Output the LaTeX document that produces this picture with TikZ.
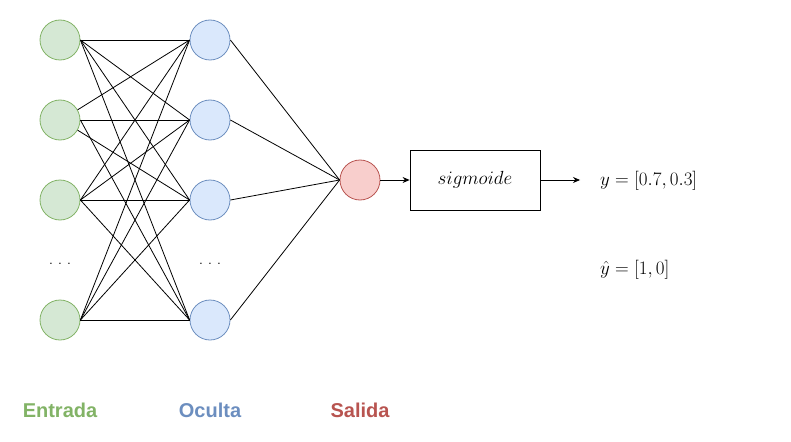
\RequirePackage{fix-cm}
\documentclass[tikz,border=0pt]{standalone}
\usepackage{fontspec}
\newfontfamily\labelfont{Liberation Sans}
\usetikzlibrary{arrows.meta}
\definecolor{ingreenf}{HTML}{D5E8D4}
\definecolor{ingreend}{HTML}{82B366}
\definecolor{hidbluef}{HTML}{DAE8FC}
\definecolor{hidblued}{HTML}{6C8EBF}
\definecolor{outredf}{HTML}{F8CECC}
\definecolor{outredd}{HTML}{B85450}
\begin{document}
\begin{tikzpicture}[x=1pt,y=-1pt,
  neuron/.style={circle,minimum size=40pt,inner sep=0pt,line width=0.8pt},
  innode/.style={neuron,fill=ingreenf,draw=ingreend},
  hidnode/.style={neuron,fill=hidbluef,draw=hidblued},
  outnode/.style={neuron,fill=outredf,draw=outredd},
  conn/.style={draw=black,line width=0.8pt},
  arr/.style={conn,-{Stealth[length=7pt,width=6pt]}},
  sigbox/.style={draw=black,line width=0.8pt,minimum width=130pt,minimum height=60pt,inner sep=0pt,font=\fontsize{19}{22}\selectfont},
  mathlabel/.style={anchor=west,inner sep=0pt,font=\fontsize{19}{22}\selectfont},
  dotslabel/.style={inner sep=0pt,font=\labelfont\fontsize{12}{14}\selectfont},
  layerlabel/.style={inner sep=0pt,font=\labelfont\bfseries\fontsize{20}{24}\selectfont}
]
\useasboundingbox (0,0) rectangle (791,441);
% nodes
\node[innode] (i1) at (60,40) {};
\node[innode] (i2) at (60,120) {};
\node[innode] (i3) at (60,200) {};
\node[innode] (i4) at (60,320) {};
\node[hidnode] (h1) at (210,40) {};
\node[hidnode] (h2) at (210,120) {};
\node[hidnode] (h3) at (210,200) {};
\node[hidnode] (h4) at (210,320) {};
\node[outnode] (o) at (360,180) {};
\node[sigbox] (s) at (475,180) {$sigmoide$};
\coordinate (yend) at (580,180);
\node[mathlabel] (y) at (600,181) {$y=[0.7,0.3]$};
\node[mathlabel] (yhat) at (600,270) {$\hat{y}=[1,0]$};
\node[dotslabel] (d1) at (60,264) {.\hspace{5.7pt}.\hspace{5.7pt}.};
\node[dotslabel] (d2) at (210,264) {.\hspace{5.7pt}.\hspace{5.7pt}.};
\node[layerlabel,text=ingreend] (l1) at (60,410) {Entrada};
\node[layerlabel,text=hidblued] (l2) at (210,410) {Oculta};
\node[layerlabel,text=outredd] (l3) at (360,410) {Salida};
% input to hidden
\foreach \h in {h1,h2,h3,h4}{
  \draw[conn] (i1.east) -- (\h.west);
  \draw[conn] (i3.east) -- (\h.west);
  \draw[conn] (i4.east) -- (\h.west);
}
\draw[conn] (i2.30) -- (h1.west);
\draw[conn] (i2.east) -- (h2.west);
\draw[conn] (i2.-30) -- (h3.west);
\draw[conn] (i2.east) -- (h4.west);
% hidden to output
\foreach \h in {h1,h2,h3,h4}{
  \draw[conn] (\h.east) -- (o.west);
}
\draw[arr] (o.east) -- (s.west);
\draw[arr] (s.east) -- (yend);
\end{tikzpicture}
\end{document}
